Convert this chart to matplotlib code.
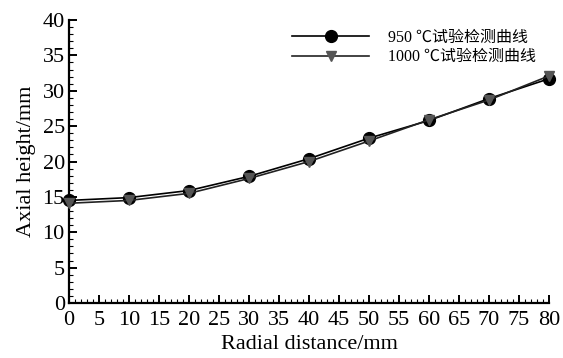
import matplotlib
matplotlib.use("Agg")
import matplotlib.pyplot as plt
from matplotlib.ticker import MultipleLocator

plt.rcParams['font.family'] = ['Liberation Serif', 'Noto Sans CJK SC', 'DejaVu Sans']

x = [0, 10, 20, 30, 40, 50, 60, 70, 80]
y950 = [14.5, 14.9, 15.9, 17.9, 20.4, 23.3, 25.8, 28.9, 31.7]
y1000 = [14.1, 14.5, 15.5, 17.6, 20.0, 22.9, 25.9, 28.7, 32.1]
label950 = "950 ℃试验检测曲线"
label1000 = "1000 ℃试验检测曲线"

fig = plt.figure(figsize=(5.63, 3.58), dpi=100)
ax = fig.add_axes([0.1226, 0.1536, 0.8526, 0.7905])

ax.plot(x, y950, color='black', lw=1.2, marker='o', ms=8.5, mfc='black', mec='black',
        label=label950, clip_on=False, zorder=3)
ax.plot(x, y1000, color='#222222', lw=1.2, marker='v', ms=7.5, mfc='#555555', mec='#555555',
        label=label1000, clip_on=False, zorder=4)

ax.set_xlim(0, 80)
ax.set_ylim(0, 40)
ax.xaxis.set_major_locator(MultipleLocator(5))
ax.xaxis.set_minor_locator(MultipleLocator(1))
ax.yaxis.set_major_locator(MultipleLocator(5))
ax.yaxis.set_minor_locator(MultipleLocator(1))
for s in ['top', 'right']:
    ax.spines[s].set_visible(False)
for s in ['left', 'bottom']:
    ax.spines[s].set_linewidth(1.6)
ax.tick_params(which='major', direction='in', length=6, width=1.4, labelsize=16, pad=3)
ax.tick_params(axis='x', which='major', pad=6)
ax.tick_params(which='minor', direction='in', length=3, width=0.8)

ax.set_xlabel("Radial distance/mm", fontsize=16, labelpad=3)
ax.set_ylabel("Axial height/mm", fontsize=16, labelpad=5)

leg = ax.legend(loc='upper right', bbox_to_anchor=(1.0, 1.01), frameon=False, fontsize=11.5,
                handlelength=4.8, handletextpad=1.2, labelspacing=0.2, borderaxespad=0.4)

fig.savefig("out.png", dpi=100)
